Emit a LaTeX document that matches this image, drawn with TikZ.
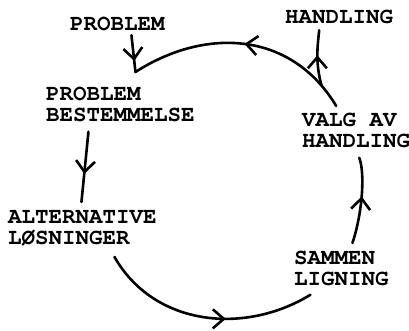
\documentclass[tikz,border=0pt]{standalone}
\usepackage[T1]{fontenc}
\usepackage{courier}
\usepackage{tikz}
\usetikzlibrary{arrows.meta,decorations.markings,calc}

\tikzset{
    word/.style={anchor=north west, inner sep=0pt, align=left,
        font=\ttfamily\bfseries\fontsize{22.5}{20.5}\selectfont},
    line/.style={line width=2.6pt, line cap=round},
    midarrow/.style={postaction={decorate}, decoration={markings,
        mark=at position #1 with {\arrow[line width=2.6pt]{Straight Barb[length=11pt,width=19pt]}}}}
}

\begin{document}
\begin{tikzpicture}[x=1pt, y=-1pt]
    \useasboundingbox (0,0) rectangle (409,331);

    \node [word] (prob) at (70,17) {PROBLEM};
    \node [word] (hand) at (285,10) {HANDLING};
    \node [word] (best) at (46,87) {PROBLEM\\BESTEMMELSE};
    \node [word] (valg) at (302,113) {VALG AV\\HANDLING};
    \node [word] (alt) at (8,211) {ALTERNATIVE\\L\O{}SNINGER};
    \node [word] (samm) at (294,251) {SAMMEN\\LIGNING};

    % the cycle
    \draw [line, midarrow=0.5] ([shift={(-20,-7)}]valg.north)
        .. controls +(-45,-75) and +(70,-45) .. coordinate[pos=0.1] (fork) ([shift={(15,-15)}]best.north);
    \draw [line, midarrow=0.6] ([shift={(-32,10)}]best.south) -- ([shift={(-1,-9)}]alt.north);
    \draw [line, midarrow=0.6] ([shift={(32,12)}]alt.south)
        .. controls +(40,70) and +(-65,40) .. ([shift={(-31,9)}]samm.south);
    \draw [line, midarrow=0.55] ([shift={(11,-8)}]samm.north)
        .. controls +(10,-30) and +(6,15) .. ([shift={(3,10)}]valg.south);

    % in and out
    \draw [line, midarrow=0.7] ([shift={(14,4)}]prob.south) -- ([shift={(15,-15)}]best.north);
    \draw [line, midarrow=0.55] (fork) .. controls +(-6,-22) and +(-2,18) .. ([shift={(-20,6)}]hand.south);

\end{tikzpicture}
\end{document}
